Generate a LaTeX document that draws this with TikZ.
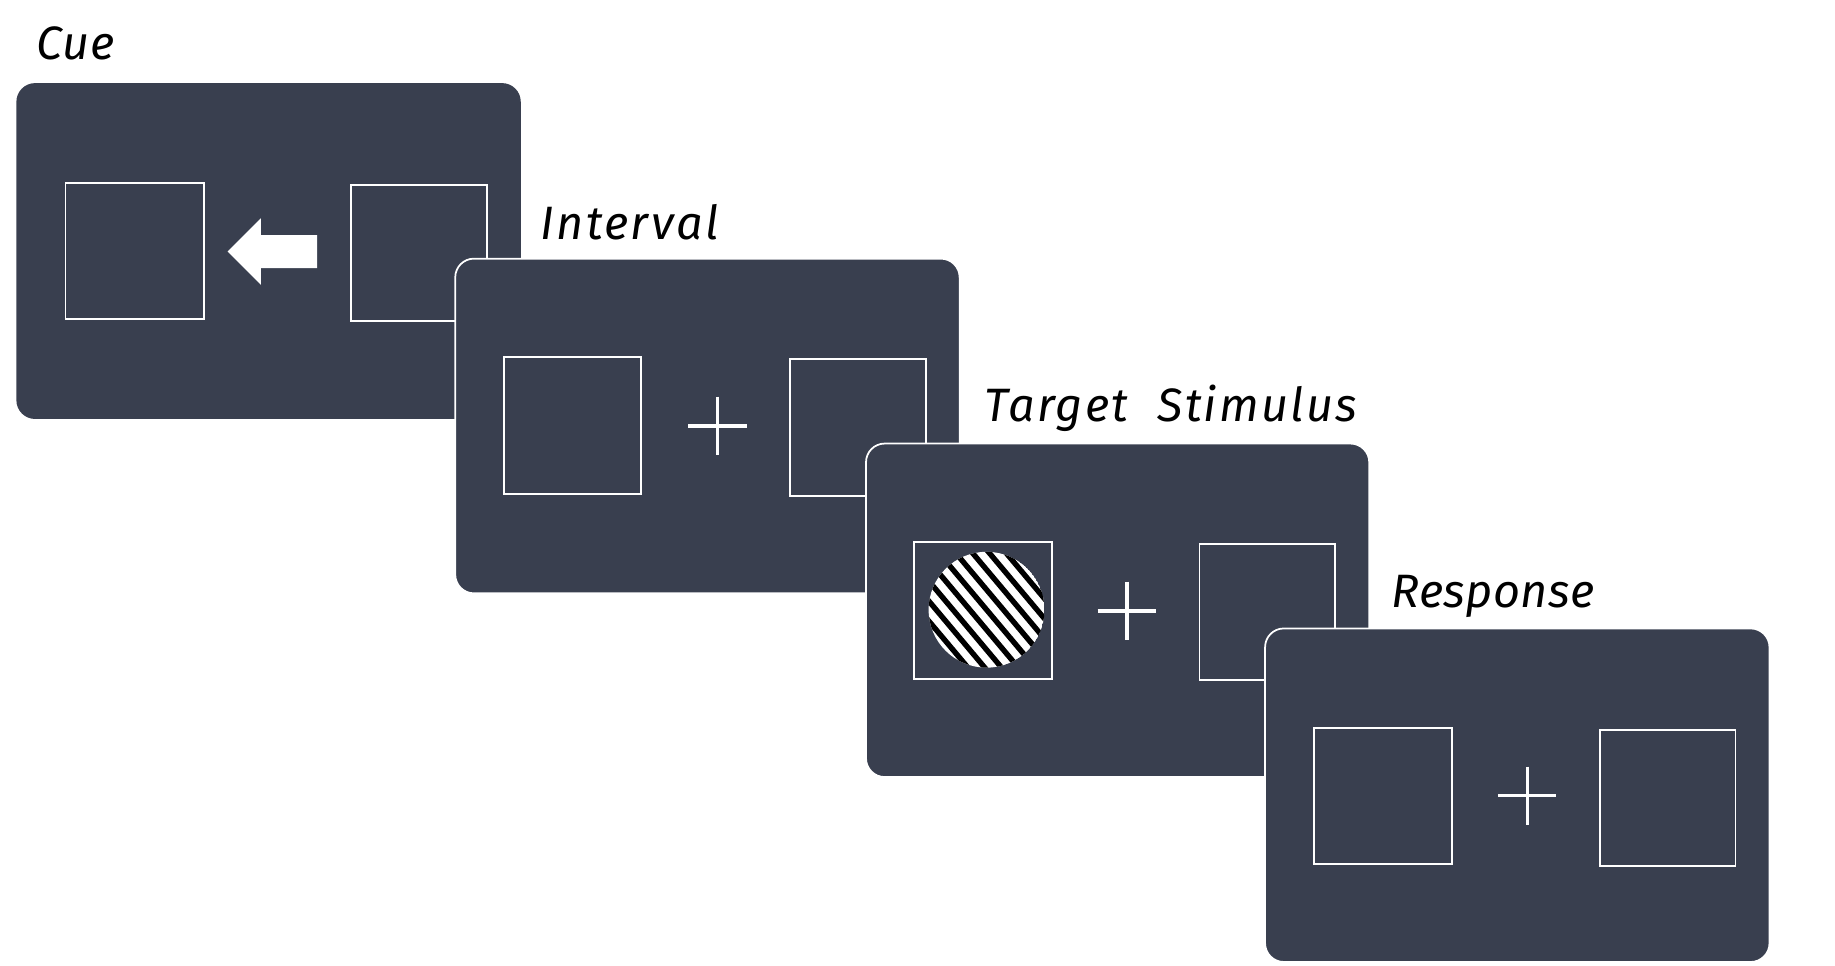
\documentclass[tikz,border=0pt]{standalone}
\usepackage{fontspec}
\setmainfont{Fira Sans}
\newfontfamily\lblwide[LetterSpace=5]{Fira Sans}
\newfontfamily\lblmid[LetterSpace=2]{Fira Sans}
\newfontfamily\lblnarrow[LetterSpace=0.8]{Fira Sans}
\definecolor{panel}{RGB}{57,63,79}
\begin{document}
\begin{tikzpicture}[x=1pt,y=-1pt,
  panelbox/.style={fill=panel, rounded corners=16pt},
  panelborder/.style={fill=panel, draw=white, line width=1.5pt, rounded corners=16pt},
  holder/.style={draw=white, line width=1.6pt},
  fix/.style={draw=white, line width=2.8pt},
  stripe/.style={draw=black, line width=4.6pt},
  lbl/.style={font=\fontsize{40}{48}\selectfont\itshape, anchor=base west, inner sep=0pt, text=black}]
\useasboundingbox (0,0) rectangle (1568,825.4);
% ---------- Cue ----------
\node[lbl] (cue) at (31,50.5) {\lblmid\itshape Cue};
\path[panelbox] (14,71) rectangle (445,358);
\draw[holder] (56,156) rectangle (174,272.5);
\draw[holder] (300,158) rectangle (416,274);
\fill[white] (194.5,215) -- (223,186.5) -- (223,201) -- (271,201) -- (271,229) -- (223,229) -- (223,243.5) -- cycle;
% ---------- Interval ----------
\node[lbl] (interval) at (462,205) {\lblwide\itshape Interval};
\path[panelborder] (389,221) rectangle (820,507);
\draw[holder] (431,305) rectangle (548,422);
\draw[holder] (675,307) rectangle (791,424);
\draw[fix] (588,364) -- (638,364) (613,339) -- (613,389);
% ---------- Target Stimulus ----------
\node[lbl] (target) at (841,360) {\lblwide\itshape Target\ \ Stimulus};
\path[panelborder] (740,379) rectangle (1170,664);
\draw[holder] (781,463) rectangle (899,580);
\draw[holder] (1025,465) rectangle (1141,581);
\draw[fix] (938,522) -- (988,522) (963,497) -- (963,547);
\begin{scope}
  \clip (843,521) circle (49.5);
  \fill[white] (843,521) circle (49.5);
  \foreach \k in {-6,...,6} {
    \draw[stripe] ({843+\k*11*0.766},{521-\k*11*0.643}) ++({-90*0.643},{-90*0.766}) -- ++({180*0.643},{180*0.766});
  }
\end{scope}
% ---------- Response ----------
\node[lbl] (response) at (1189,519.5) {\lblnarrow\itshape Response};
\path[panelborder] (1081,537) rectangle (1512,822);
\draw[holder] (1123,622) rectangle (1241,738);
\draw[holder] (1367,624) rectangle (1483,740);
\draw[fix] (1280,680) -- (1330,680) (1305,655) -- (1305,705);
\end{tikzpicture}
\end{document}
